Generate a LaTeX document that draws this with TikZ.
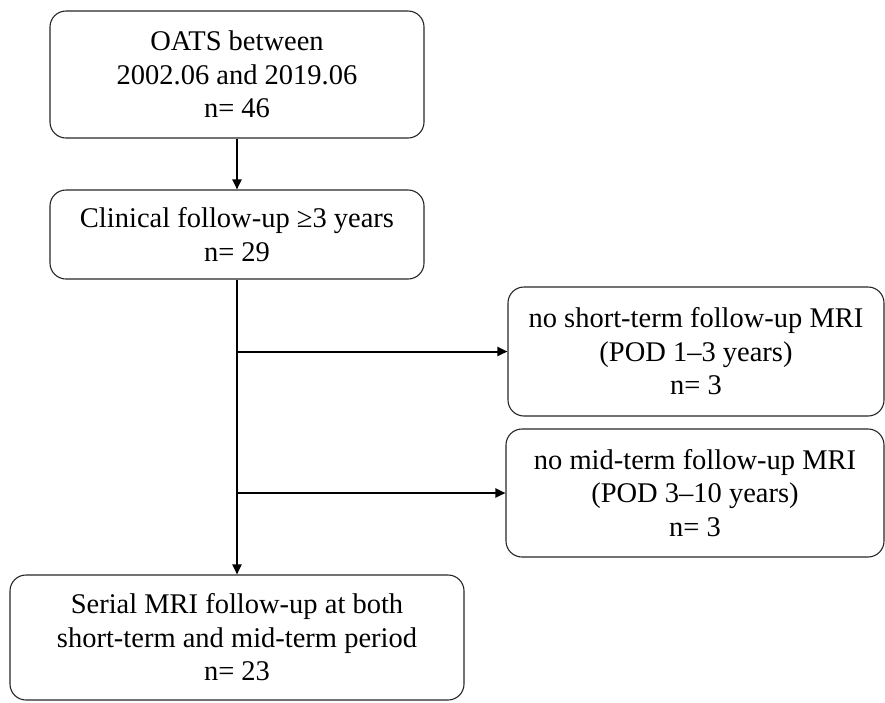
\documentclass[tikz,border=0pt]{standalone}
\usepackage{fontspec}
\setmainfont{Liberation Serif}
\usetikzlibrary{arrows.meta}
\begin{document}
\begin{tikzpicture}[x=1pt,y=-1pt,
  flowbox/.style={draw=black!85, line width=1.1pt, rounded corners=16pt, inner sep=0pt,
    align=center, font=\fontsize{28.5}{33.5}\selectfont},
  flowarrow/.style={line width=2pt, -{Triangle[length=10pt,width=9pt]}},
  flowline/.style={line width=2pt}]
\useasboundingbox (0,0) rectangle (885,702);
\node[flowbox, minimum width=374pt, minimum height=127pt] (b1) at (237,74.5)
  {OATS between\\2002.06 and 2019.06\\n= 46};
\node[flowbox, minimum width=374pt, minimum height=89pt] (b2) at (237,234.5)
  {Clinical follow-up ≥3 years\\n= 29};
\node[flowbox, minimum width=376pt, minimum height=129pt] (b3) at (696,351.5)
  {no short-term follow-up MRI\\(POD 1–3 years)\\n= 3};
\node[flowbox, minimum width=378pt, minimum height=128pt] (b4) at (695,493)
  {no mid-term follow-up MRI\\(POD 3–10 years)\\n= 3};
\node[flowbox, minimum width=454pt, minimum height=125pt] (b5) at (237,637.5)
  {Serial MRI follow-up at both\\short-term and mid-term period\\n= 23};
\coordinate (j1) at (237,351.5);
\coordinate (j2) at (237,493);
\draw[flowarrow] (b1.south) -- (b2.north);
\draw[flowarrow] (b2.south) -- (b5.north);
\draw[flowarrow] (j1) -- (b3.west);
\draw[flowarrow] (j2) -- (b4.west);
\end{tikzpicture}
\end{document}
